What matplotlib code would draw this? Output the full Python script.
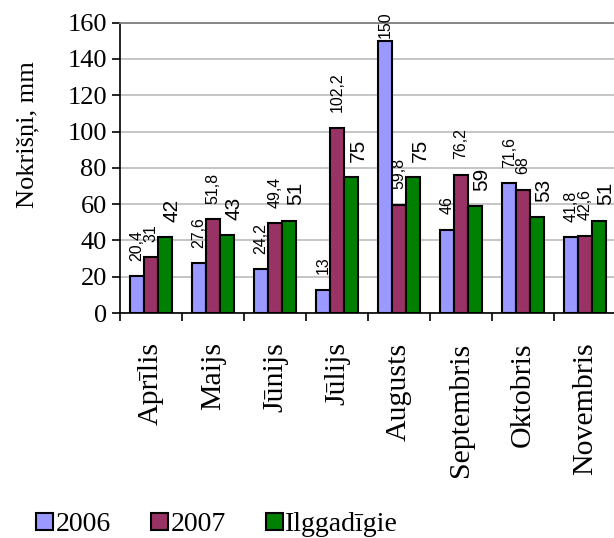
import matplotlib.pyplot as plt
import numpy as np

# monthly precipitation, mm
months = ['Aprīlis', 'Maijs', 'Jūnijs', 'Jūlijs', 'Augusts', 'Septembris', 'Oktobris', 'Novembris']
y2006 = [20.4, 27.6, 24.2, 13, 150, 46, 71.6, 41.8]
y2007 = [31, 51.8, 49.4, 102.2, 59.8, 76.2, 68, 42.6]
longterm = [42, 43, 51, 75, 75, 59, 53, 51]
series_names = ['2006', '2007', 'Ilggadīgie']
colors = ['#9999FF', '#993366', '#008000']


def fmt(v):
    # Latvian decimal comma
    s = ('%g' % v)
    return s.replace('.', ',')


fig = plt.figure(figsize=(6.14, 5.38), dpi=100)
ax = fig.add_axes([0.1955, 0.418, 0.808, 0.54])

x = np.arange(len(months))
w = 0.225
series = [y2006, y2007, longterm]
for i, (vals, name, c) in enumerate(zip(series, series_names, colors)):
    pos = x + (i - 1) * w
    ax.bar(pos, vals, width=w, color=c, edgecolor='black', linewidth=1.5,
           label=name, zorder=3)
    for p, v in zip(pos, vals):
        gap = 11 if v < 140 else 2
        if i == 2:
            ax.annotate(fmt(v), (p, v), xytext=(5, gap), textcoords='offset points',
                        rotation=90, ha='center', va='bottom', fontsize=15,
                        family='Liberation Sans', annotation_clip=False)
        else:
            ax.annotate(fmt(v), (p, v), xytext=(0, gap), textcoords='offset points',
                        rotation=90, ha='center', va='bottom', fontsize=11.5,
                        family='Liberation Sans', annotation_clip=False)

ax.set_xlim(-0.5, len(months) - 0.5)
ax.set_ylim(0, 160)
ax.set_yticks(np.arange(0, 161, 20))
ax.yaxis.grid(True, color='#c0c0c0', linewidth=1.3, zorder=0)
ax.set_axisbelow(True)

# category ticks between groups, labels centered
ax.set_xticks(np.arange(len(months) + 1) - 0.5)
ax.set_xticklabels([])
ax.set_xticks(x, minor=True)
ax.set_xticklabels(months, minor=True, rotation=90, fontsize=21.5,
                   family='Liberation Serif')
ax.tick_params(axis='x', which='minor', length=0, pad=21)
ax.tick_params(axis='x', which='major', length=6, width=1.2, direction='out')
ax.tick_params(axis='y', length=6, width=1.2, direction='out', labelsize=19)
for lab in ax.get_yticklabels():
    lab.set_family('Liberation Serif')

ax.spines['right'].set_visible(False)
ax.spines['top'].set_color('#808080')
ax.spines['top'].set_linewidth(1.3)
ax.spines['left'].set_linewidth(1.2)
ax.spines['bottom'].set_linewidth(1.2)

fig.text(0.045, 0.75, 'Nokrišņi, mm', rotation=90, ha='center', va='center',
         fontsize=19, family='Liberation Serif')

fig.legend(loc='lower left', bbox_to_anchor=(0.018, -0.045), ncol=3, frameon=False,
           handlelength=0.6, handleheight=0.6, handletextpad=0.1,
           columnspacing=1.45, prop={'family': 'Liberation Serif', 'size': 20})

plt.savefig('out.png', dpi=100)
plt.close(fig)
